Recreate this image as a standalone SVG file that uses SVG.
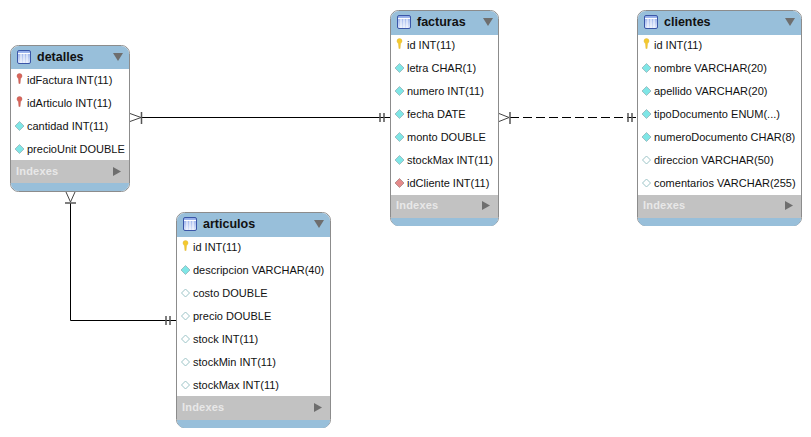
<svg xmlns="http://www.w3.org/2000/svg" xmlns:xlink="http://www.w3.org/1999/xlink" width="811" height="437" viewBox="0 0 811 437">
<style>
text{font-family:"Liberation Sans",Arial,sans-serif;font-size:11px;fill:#111}
.t{font-size:12.500px;font-weight:bold;fill:#111}
.ix{font-size:11px;font-weight:bold;fill:#e8e8e8;letter-spacing:.2px}
.card{fill:#fff;stroke:#8c8c8c;stroke-width:1}
.hd{fill:#98bfda}
.band{fill:#c2c2c2}
.tri{fill:#6e6e6e}
.c{fill:none;stroke:#000;stroke-width:1}
.m{fill:none;stroke:#444;stroke-width:1}
.b{fill:none;stroke:#555;stroke-width:1.500}
</style>
<defs>
<linearGradient id="ic" x1="0" y1="0" x2="0" y2="1"><stop offset="0" stop-color="#8fa9e8"/><stop offset="1" stop-color="#dfe8fb"/></linearGradient>
<g id="tbl"><rect x="0" y="0" width="13" height="13" rx="1.500" fill="url(#ic)" stroke="#3a56a8"/><path d="M0.500 3H12.500M3.500 3V12.500M6.500 3V12.500M9.500 3V12.500" stroke="#fff" stroke-width="1" fill="none"/></g>
<g id="full"><path d="M0 -4.500L4.500 0L0 4.500L-4.500 0Z" fill="#7fe6e6" stroke="#9cc0c4"/></g>
<g id="empty"><path d="M0 -4L4 0L0 4L-4 0Z" fill="#fff" stroke="#9cc4c7"/></g>
<g id="pink"><path d="M0 -4.500L4.500 0L0 4.500L-4.500 0Z" fill="#e58a8a" stroke="#b89090"/></g>
<g id="key"><path d="M-2.500 -3A2.500 2.500 0 0 1 2.500 -3C2.500 -1.500 1.200 -1 1 0L.6 4.500H-.6L-1 0C-1.200 -1 -2.500 -1.500 -2.500 -3Z" fill="#f4c92e" stroke="#d9b030" stroke-width=".4"/></g>
<g id="fkey"><path d="M-2.500 -3A2.500 2.500 0 0 1 2.500 -3C2.500 -1.500 1.200 -1 1 0L.6 4.500H-.6L-1 0C-1.200 -1 -2.500 -1.500 -2.500 -3Z" fill="#d9655a" stroke="#b05048" stroke-width=".4"/></g>
</defs>
<rect width="811" height="437" fill="#fff"/>
<g id="connectors">
<path class="c" d="M141 117.500H390"/>
<path class="m" d="M130 113.500L141 117.500L130 121.500"/>
<path class="b" d="M141.500 112V124"/>
<path class="b" d="M380 113V122M384 113V122"/>
<path class="c" d="M510 117.500H637" stroke-dasharray="9 4"/>
<path class="m" d="M499 113.500L509 117.500L499 121.500"/>
<path class="b" d="M510 112V124"/>
<path class="b" d="M628 113V122M632 113V122"/>
<path class="c" d="M70.500 203V320.500H176"/>
<path class="m" d="M66 192L70.500 202L75 192"/>
<path class="b" d="M65 203H76"/>
<path class="b" d="M166 316V325M170 316V325"/>
</g>
<g id="detalles">
<rect class="card" x="10.500" y="45.500" width="119" height="146" rx="8"/>
<path class="hd" d="M11 69V53.500A8 8 0 0 1 18.500 46H121.500A8 8 0 0 1 129 53.500V69Z"/>
<rect class="band" x="11" y="160" width="118" height="23"/>
<path class="hd" d="M11 183H129V183.500A7.500 7.500 0 0 1 121.500 191H18.500A7.500 7.500 0 0 1 11 183.500Z"/>
<use xlink:href="#tbl" x="17.500" y="50.500"/>
<text class="t" x="37" y="61">detalles</text>
<path class="tri" d="M113 53H123L118 61Z"/>
<use xlink:href="#fkey" x="19.500" y="79"/><text x="27" y="84">idFactura INT(11)</text>
<use xlink:href="#fkey" x="19.500" y="102"/><text x="27" y="107">idArticulo INT(11)</text>
<use xlink:href="#full" x="19.500" y="126"/><text x="27" y="130">cantidad INT(11)</text>
<use xlink:href="#full" x="19.500" y="149"/><text x="27" y="153">precioUnit DOUBLE</text>
<text class="ix" x="16" y="175">Indexes</text>
<path class="tri" d="M113 167L121 171.500L113 176Z"/>
</g>
<g id="facturas">
<rect class="card" x="390.500" y="10.500" width="108" height="215" rx="8"/>
<path class="hd" d="M391 35V18.500A8 8 0 0 1 398.500 11H490.500A8 8 0 0 1 498 18.500V35Z"/>
<rect class="band" x="391" y="195" width="107" height="23"/>
<path class="hd" d="M391 218H498V218.500A7.500 7.500 0 0 1 490.500 226H398.500A7.500 7.500 0 0 1 391 218.500Z"/>
<use xlink:href="#tbl" x="397.500" y="15.500"/>
<text class="t" x="417" y="26">facturas</text>
<path class="tri" d="M483 18H493L488 26Z"/>
<use xlink:href="#key" x="399.500" y="44"/><text x="407" y="49">id INT(11)</text>
<use xlink:href="#full" x="399.500" y="68"/><text x="407" y="72">letra CHAR(1)</text>
<use xlink:href="#full" x="399.500" y="91"/><text x="407" y="95">numero INT(11)</text>
<use xlink:href="#full" x="399.500" y="114"/><text x="407" y="118">fecha DATE</text>
<use xlink:href="#full" x="399.500" y="137"/><text x="407" y="141">monto DOUBLE</text>
<use xlink:href="#full" x="399.500" y="160"/><text x="407" y="164">stockMax INT(11)</text>
<use xlink:href="#pink" x="399.500" y="183"/><text x="407" y="187">idCliente INT(11)</text>
<text class="ix" x="396" y="209">Indexes</text>
<path class="tri" d="M482 201L490 205.500L482 210Z"/>
</g>
<g id="clientes">
<rect class="card" x="637.500" y="10.500" width="164" height="215" rx="8"/>
<path class="hd" d="M638 35V18.500A8 8 0 0 1 645.500 11H793.500A8 8 0 0 1 801 18.500V35Z"/>
<rect class="band" x="638" y="195" width="163" height="23"/>
<path class="hd" d="M638 218H801V218.500A7.500 7.500 0 0 1 793.500 226H645.500A7.500 7.500 0 0 1 638 218.500Z"/>
<use xlink:href="#tbl" x="644.500" y="15.500"/>
<text class="t" x="664" y="26">clientes</text>
<path class="tri" d="M785 18H795L790 26Z"/>
<use xlink:href="#key" x="646.500" y="44"/><text x="654" y="49">id INT(11)</text>
<use xlink:href="#full" x="646.500" y="68"/><text x="654" y="72">nombre VARCHAR(20)</text>
<use xlink:href="#full" x="646.500" y="91"/><text x="654" y="95">apellido VARCHAR(20)</text>
<use xlink:href="#full" x="646.500" y="114"/><text x="654" y="118">tipoDocumento ENUM(...)</text>
<use xlink:href="#full" x="646.500" y="137"/><text x="654" y="141">numeroDocumento CHAR(8)</text>
<use xlink:href="#empty" x="646.500" y="160"/><text x="654" y="164">direccion VARCHAR(50)</text>
<use xlink:href="#empty" x="646.500" y="183"/><text x="654" y="187">comentarios VARCHAR(255)</text>
<text class="ix" x="643" y="209">Indexes</text>
<path class="tri" d="M785 201L793 205.500L785 210Z"/>
</g>
<g id="articulos">
<rect class="card" x="176.500" y="212.500" width="154" height="215" rx="8"/>
<path class="hd" d="M177 237V220.500A8 8 0 0 1 184.500 213H322.500A8 8 0 0 1 330 220.500V237Z"/>
<rect class="band" x="177" y="396" width="153" height="24"/>
<path class="hd" d="M177 420H330V420.500A7.500 7.500 0 0 1 322.500 428H184.500A7.500 7.500 0 0 1 177 420.500Z"/>
<use xlink:href="#tbl" x="183.500" y="217.500"/>
<text class="t" x="203" y="228">articulos</text>
<path class="tri" d="M314 220H324L319 228Z"/>
<use xlink:href="#key" x="185.500" y="246"/><text x="193" y="251">id INT(11)</text>
<use xlink:href="#full" x="185.500" y="270"/><text x="193" y="274">descripcion VARCHAR(40)</text>
<use xlink:href="#empty" x="185.500" y="293"/><text x="193" y="297">costo DOUBLE</text>
<use xlink:href="#empty" x="185.500" y="316"/><text x="193" y="320">precio DOUBLE</text>
<use xlink:href="#empty" x="185.500" y="339"/><text x="193" y="343">stock INT(11)</text>
<use xlink:href="#empty" x="185.500" y="362"/><text x="193" y="366">stockMin INT(11)</text>
<use xlink:href="#empty" x="185.500" y="385"/><text x="193" y="389">stockMax INT(11)</text>
<text class="ix" x="182" y="411">Indexes</text>
<path class="tri" d="M314 403L322 407.500L314 412Z"/>
</g>
</svg>
